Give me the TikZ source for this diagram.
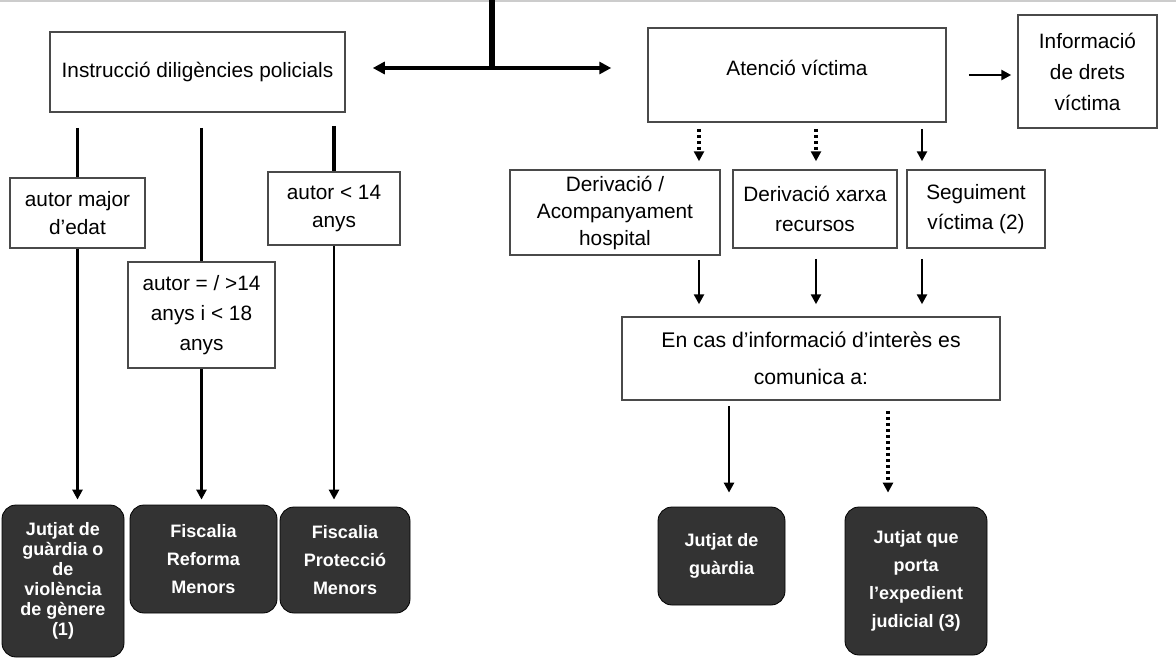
\documentclass[tikz,border=0pt]{standalone}
\usepackage{fontspec}
\setmainfont{Liberation Sans}
\usetikzlibrary{arrows.meta,positioning}
\definecolor{darkbox}{HTML}{333333}
\definecolor{edge}{HTML}{4A4A4A}

\begin{document}
\begin{tikzpicture}[
    x=0.5pt,y=-0.5pt,
    infobox/.style={draw=edge,line width=0.75pt,fill=white,align=center,inner sep=2pt,font=\fontsize{10.4}{14}\selectfont},
    judgebox/.style={draw=black,fill=darkbox,rounded corners=7pt,align=center,text=white,inner sep=2pt,font=\bfseries\fontsize{9}{14}\selectfont},
    arrow/.style={-{Triangle[length=5pt,width=5pt]},line width=1.4pt},
    dotarrow/.style={arrow,line width=1.6pt,dash pattern=on 1.5pt off 1.5pt},
    link/.style={line width=1.6pt}
  ]
    \useasboundingbox (0,0) rectangle (1176,664);
    \draw[gray!40,line width=0.6pt] (0,1) -- (1176,1);

    % top level
    \node[infobox,minimum width=147.5pt,minimum height=40pt] (instr) at (197.5,72) {Instrucció diligències policials};
    \node[infobox,minimum width=149pt,minimum height=47pt,text depth=7pt] (atencio) at (797,75) {Atenció víctima};
    \node[infobox,minimum width=69.5pt,minimum height=56.5pt,font=\fontsize{10.4}{15.5}\selectfont] (drets) at (1087.5,71.5) {Informació\\de drets\\víctima};

    % left branch
    \node[infobox,minimum width=67.5pt,minimum height=35pt] (major) at (77.5,213) {autor major\\d'edat};
    \node[infobox,minimum width=73.5pt,minimum height=53pt,font=\fontsize{10.4}{15}\selectfont] (menor) at (201.5,315) {autor = / >14\\anys i < 18\\anys};
    \node[infobox,minimum width=66pt,minimum height=36.5pt] (infant) at (334,208.5) {autor < 14\\anys};
    \node[judgebox,minimum width=61pt,minimum height=76pt,font=\bfseries\fontsize{9}{10}\selectfont] (guardia1) at (63,581) {Jutjat de\\guàrdia o\\de\\violència\\de gènere\\(1)};
    \node[judgebox,minimum width=73.5pt,minimum height=54pt] (reforma) at (203.5,559) {Fiscalia\\Reforma\\Menors};
    \node[judgebox,minimum width=65pt,minimum height=53pt] (proteccio) at (345,560) {Fiscalia\\Protecció\\Menors};

    % right branch
    \node[infobox,minimum width=105pt,minimum height=42.5pt,font=\fontsize{10.4}{13.5}\selectfont] (hospital) at (615,212.5) {Derivació /\\Acompanyament\\hospital};
    \node[infobox,minimum width=82pt,minimum height=39pt,font=\fontsize{10.4}{15}\selectfont] (xarxa) at (815,209) {Derivació xarxa\\recursos};
    \node[infobox,minimum width=69pt,minimum height=39pt,font=\fontsize{10.4}{15}\selectfont] (seguiment) at (976,209) {Seguiment\\víctima (2)};
    \node[infobox,minimum width=189pt,minimum height=41.5pt,font=\fontsize{10.6}{18.5}\selectfont] (comunica) at (811,358.5) {En cas d'informació d'interès es\\comunica a:};
    \node[judgebox,minimum width=63.5pt,minimum height=49pt] (guardia2) at (721.5,556) {Jutjat de\\guàrdia};
    \node[judgebox,minimum width=71pt,minimum height=74pt] (expedient) at (916,581) {Jutjat que\\porta\\l'expedient\\judicial (3)};

    \coordinate (top) at (492,0);
    \coordinate (hub) at (492,68);
    \coordinate (c1) at (699,0);
    \coordinate (c2) at (816,0);
    \coordinate (c3) at (922,0);
    \coordinate (c4) at (729,0);
    \coordinate (c5) at (888,0);

    % connectors
    \draw[line width=2.6pt] (top) -- (hub);
    \draw[{Triangle[length=6pt,width=6pt]}-{Triangle[length=6pt,width=6pt]},line width=2pt,shorten <=13.5pt,shorten >=18pt] (hub -| instr.east) -- (hub -| atencio.west);
    \draw[arrow,shorten <=11pt,shorten >=3pt] (atencio.east) -- (atencio.east -| drets.west);

    \draw[link,shorten <=7.5pt] (major.north |- instr.south) -- (major.north);
    \draw[link,shorten <=7.5pt] (menor.north |- instr.south) -- (menor.north);
    \draw[link,shorten <=6.5pt] (infant.north |- instr.south) -- (infant.north);
    \draw[arrow,shorten >=2.5pt] (major.south) -- (major.south |- guardia1.north);
    \draw[arrow,shorten >=2.5pt] (menor.south) -- (menor.south |- reforma.north);
    \draw[arrow,shorten >=3.5pt] (infant.south) -- (infant.south |- proteccio.north);

    \draw[dotarrow,shorten <=3pt,shorten >=4pt] (c1 |- atencio.south) -- (c1 |- hospital.north);
    \draw[dotarrow,shorten <=3pt,shorten >=4pt] (c2 |- atencio.south) -- (c2 |- xarxa.north);
    \draw[arrow,shorten <=3pt,shorten >=4pt] (c3 |- atencio.south) -- (c3 |- seguiment.north);
    \draw[arrow,shorten <=2pt,shorten >=6pt] (c1 |- hospital.south) -- (c1 |- comunica.north);
    \draw[arrow,shorten <=5pt,shorten >=6pt] (c2 |- xarxa.south) -- (c2 |- comunica.north);
    \draw[arrow,shorten <=5pt,shorten >=6pt] (c3 |- seguiment.south) -- (c3 |- comunica.north);
    \draw[arrow,shorten <=2.5pt,shorten >=7pt] (c4 |- comunica.south) -- (c4 |- guardia2.north);
    \draw[dotarrow,shorten <=5pt,shorten >=7pt] (c5 |- comunica.south) -- (c5 |- expedient.north);
\end{tikzpicture}
\end{document}
